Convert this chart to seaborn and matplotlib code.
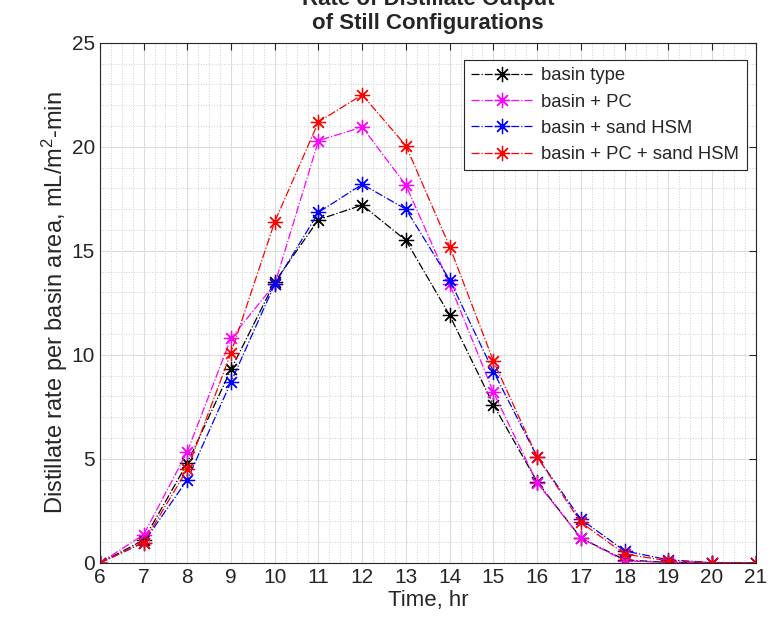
import matplotlib
matplotlib.use("Agg")
import matplotlib.pyplot as plt
from matplotlib.ticker import MultipleLocator
import seaborn as sns
import pandas as pd

hours = list(range(6, 22))
basin = [0, 1.1, 4.8, 9.3, 13.5, 16.5, 17.2, 15.5, 11.9, 7.6, 3.9, 1.2, 0.15, 0.02, 0, 0]
basin_pc = [0, 1.35, 5.35, 10.8, 13.4, 20.3, 20.95, 18.15, 13.4, 8.2, 3.85, 1.2, 0.1, 0.02, 0, 0]
basin_hsm = [0, 0.98, 4.0, 8.7, 13.4, 16.85, 18.2, 17.0, 13.6, 9.2, 5.1, 2.1, 0.58, 0.15, 0.02, 0]
basin_pc_hsm = [0, 0.98, 4.5, 10.1, 16.4, 21.2, 22.5, 20.05, 15.2, 9.7, 5.1, 1.95, 0.43, 0.1, 0.02, 0]

labels = ["basin type", "basin + PC", "basin + sand HSM", "basin + PC + sand HSM"]
colors = ["black", "magenta", "blue", "red"]

df = pd.DataFrame({
    "hour": hours * 4,
    "rate": basin + basin_pc + basin_hsm + basin_pc_hsm,
    "config": sum([[l] * len(hours) for l in labels], []),
})

sns.set_style("white")
plt.rcParams["font.family"] = ["Liberation Sans", "DejaVu Sans"]
plt.rcParams["mathtext.fontset"] = "custom"
plt.rcParams["mathtext.rm"] = "Liberation Sans"
plt.rcParams["mathtext.it"] = "Liberation Sans:italic"

fig = plt.figure(figsize=(7.8, 6.29), dpi=100)
ax = fig.add_axes([0.128, 0.105, 0.841, 0.827])

star = (8, 2, 0)  # matlab-like asterisk
for lab, col in zip(labels, colors):
    sub = df[df["config"] == lab]
    sns.lineplot(data=sub, x="hour", y="rate", ax=ax, color=col, linestyle="-.",
                 linewidth=0.9, marker=star, markersize=11, markeredgewidth=0.9,
                 markeredgecolor=col, label=lab)

ax.set_xlim(6, 21)
ax.set_ylim(0, 25)
ax.xaxis.set_major_locator(MultipleLocator(1))
ax.xaxis.set_minor_locator(MultipleLocator(0.25))
ax.yaxis.set_major_locator(MultipleLocator(5))
ax.yaxis.set_minor_locator(MultipleLocator(1))
ax.grid(True, which="major", color="#dcdcdc", linewidth=0.8)
ax.grid(True, which="minor", color="#d0d0d0", linestyle=":", linewidth=0.7)
ax.tick_params(which="both", direction="in", top=True, right=True, labelsize=15,
               colors="#262626")
ax.tick_params(which="major", length=5)
ax.tick_params(which="minor", length=0)
for s in ax.spines.values():
    s.set_color("#262626")
    s.set_linewidth(0.8)

ax.set_xlabel("Time, hr", fontsize=16, color="#262626", labelpad=2)
ax.set_ylabel("Distillate rate per basin area, mL/m$^2$-min", fontsize=17,
              color="#262626", labelpad=1)
# title sits partly above the canvas, as in the original export
ax.set_title("Rate of Distillate Output\nof Still Configurations", fontsize=16,
             fontweight="bold", pad=10)

leg = ax.legend(loc="upper right", bbox_to_anchor=(0.986, 0.967), borderaxespad=0,
                fontsize=13.3, frameon=True, fancybox=False, edgecolor="#262626",
                framealpha=1, handlelength=3.3, labelspacing=0.5, handletextpad=0.5)
leg.get_frame().set_linewidth(0.8)

fig.savefig("out.png", dpi=100)
